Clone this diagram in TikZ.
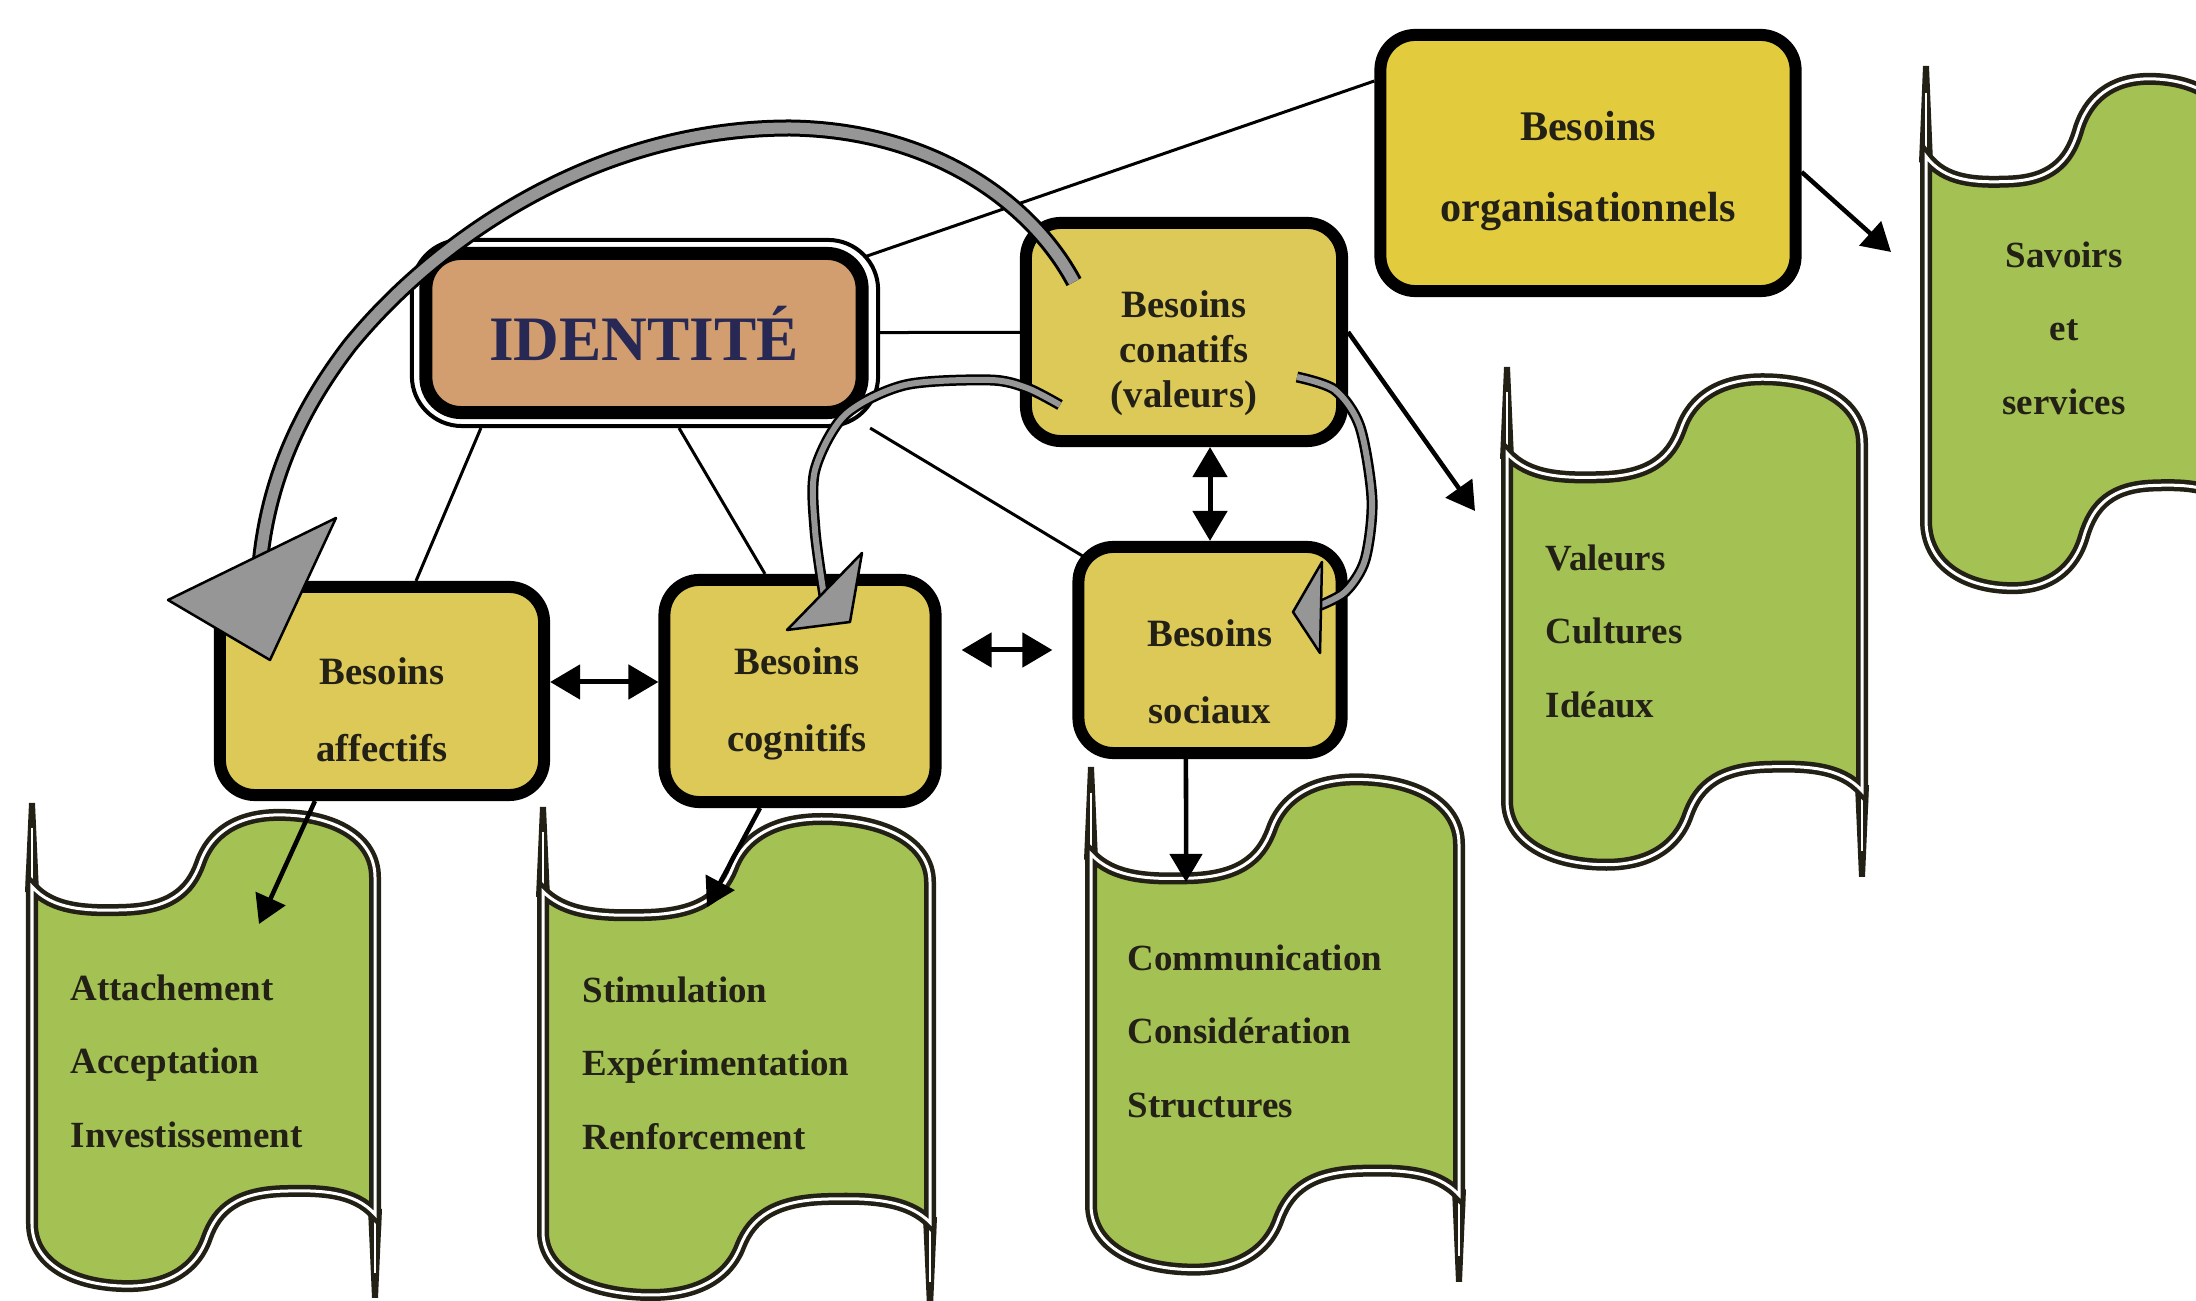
\documentclass[tikz,border=0pt]{standalone}
\usepackage{fontspec}
\setmainfont{Liberation Serif}
\usetikzlibrary{arrows.meta,backgrounds}
\definecolor{boxyellow}{RGB}{221,201,88}
\definecolor{orgyellow}{RGB}{226,204,62}
\definecolor{idtan}{RGB}{210,158,112}
\definecolor{idblue}{RGB}{40,40,85}
\definecolor{flaggreen}{RGB}{164,193,84}
\definecolor{bandgray}{RGB}{150,150,150}
\definecolor{inkdark}{RGB}{35,32,22}

% flag: x, y (top of the pole), width, height
\newcommand{\flag}[4]{%
\begin{scope}[shift={(#1,#2)}]
\fill[inkdark] (-7,{0.18*#4}) -- (-3,0) -- (3,0) -- (7,{0.18*#4}) -- cycle;
\fill[inkdark] ({#3-7},{0.82*#4}) -- ({#3-3},#4) -- ({#3+3},#4) -- ({#3+7},{0.82*#4}) -- cycle;
\draw[white,line width=0.012cm] (0,{0.05*#4}) -- (0,{0.18*#4});
\draw[white,line width=0.012cm] (#3,{0.82*#4}) -- (#3,{0.95*#4});
\filldraw[flagline,fill=flaggreen] (0,{0.169*#4}) .. controls ({0.06*#3},{0.216*#4}) and ({0.16*#3},{0.218*#4}) .. ({0.262*#3},{0.216*#4})
 .. controls ({0.40*#3},{0.214*#4}) and ({0.46*#3},{0.18*#4}) .. ({0.49*#3},{0.122*#4})
 .. controls ({0.52*#3},{0.06*#4}) and ({0.60*#3},{0.024*#4}) .. ({0.72*#3},{0.024*#4})
 .. controls ({0.88*#3},{0.024*#4}) and (#3,{0.07*#4}) .. (#3,{0.15*#4})
 -- (#3,{0.831*#4})
 .. controls ({0.94*#3},{0.784*#4}) and ({0.84*#3},{0.782*#4}) .. ({0.738*#3},{0.784*#4})
 .. controls ({0.60*#3},{0.786*#4}) and ({0.54*#3},{0.82*#4}) .. ({0.51*#3},{0.878*#4})
 .. controls ({0.48*#3},{0.94*#4}) and ({0.40*#3},{0.976*#4}) .. ({0.28*#3},{0.976*#4})
 .. controls ({0.12*#3},{0.976*#4}) and (0,{0.93*#4}) .. (0,{0.85*#4})
 -- cycle;
\end{scope}}

\begin{document}
\begin{tikzpicture}[x=0.01cm,y=-0.01cm,
  box/.style={draw=black,line width=0.12cm,rounded corners=0.35cm,fill=boxyellow},
  boxtext/.style={font=\bfseries\fontsize{11}{22}\selectfont,text=inkdark,align=center},
  listtext/.style={font=\bfseries\fontsize{10.5}{20.9}\selectfont,text=inkdark,align=left,anchor=west,inner sep=0pt},
  link/.style={line width=0.03cm,draw=black},
  arr/.style={line width=0.045cm,-{Triangle[length=0.28cm,width=0.32cm]}},
  dblarr/.style={line width=0.05cm,{Triangle[length=0.3cm,width=0.34cm]}-{Triangle[length=0.3cm,width=0.34cm]}},
  flagline/.style={draw=inkdark,line width=0.045cm,double=white,double distance=0.03cm},
  band/.style={draw=black,line width=0.025cm,double=bandgray,double distance=0.06cm},
  bandhead/.style={draw=black,line width=0.025cm,fill=bandgray,line join=round}]
\useasboundingbox (0,0) rectangle (2196,1301);
\clip (0,0) rectangle (2196,1301);

% Flags
\flag{32}{803}{343}{495}
\flag{543}{807}{387}{500}
\flag{1091}{767}{368}{515}
\flag{1507}{367}{355}{510}
\flag{1926}{66}{310}{535}

\node[listtext] (l1) at (70,1061) {Attachement\\Acceptation\\Investissement};
\node[listtext] (l2) at (582,1063) {Stimulation\\Expérimentation\\Renforcement};
\node[listtext] (l3) at (1127,1031) {Communication\\Considération\\Structures};
\node[listtext] (l4) at (1545,631) {Valeurs\\Cultures\\Idéaux};
\node[listtext,align=center,anchor=center] (l5) at (2064,328) {Savoirs\\et\\services};

\coordinate (t1) at (259,924);
\coordinate (t2) at (707,907);
\coordinate (t3) at (1186,882);
\coordinate (t4) at (1475,511);
\coordinate (t5) at (1891,252);

% Boxes
\node[draw=black,line width=0.04cm,rounded corners=0.5cm,fill=white,minimum width=4.66cm,minimum height=1.86cm] (idout) at (645,333) {};
\node[box,fill=idtan,line width=0.13cm,minimum width=4.36cm,minimum height=1.59cm,font=\bfseries\fontsize{18}{18}\selectfont,text=idblue] (id) at (644,333) {IDENTITÉ};
\node[box,minimum width=3.16cm,minimum height=2.18cm] (con) at (1184,332) {};
\node[box,fill=orgyellow,minimum width=4.15cm,minimum height=2.56cm] (org) at (1588,163) {};
\node[box,minimum width=3.24cm,minimum height=2.08cm] (aff) at (382,691) {};
\node[box,minimum width=2.71cm,minimum height=2.22cm] (cog) at (800,691) {};
\node[box,minimum width=2.63cm,minimum height=2.06cm] (soc) at (1210,650) {};

\node[boxtext,font=\bfseries\fontsize{11}{12.8}\selectfont] (conT) at ([yshift=-0.21cm]con.center) {Besoins\\conatifs\\(valeurs)};
\node[boxtext,font=\bfseries\fontsize{12}{23}\selectfont] (orgT) at ([yshift=-0.08cm]org.center) {Besoins\\organisationnels};
\node[boxtext] (affT) at ([yshift=-0.19cm]aff.center) {Besoins\\affectifs};
\node[boxtext] (cogT) at ([yshift=-0.13cm,xshift=-0.03cm]cog.center) {Besoins\\cognitifs};
\node[boxtext] (socT) at ([yshift=-0.22cm]soc.center) {Besoins\\sociaux};

%Lines
\begin{scope}[on background layer]
\fill[white] (0,0) rectangle (2196,1301);
\draw[link] (id.center) -- (org.159);
\draw[link] (id) -- (con);
\draw[link] ([xshift=0.71cm]idout.south west) -- ([xshift=0.34cm]aff.north);
\draw[link] ([xshift=0.34cm]idout.south) -- ([xshift=-0.35cm]cog.north);
\draw[link] ([xshift=-0.1cm]idout.south east) -- ([xshift=0.3cm,yshift=-0.27cm]soc.north west);
\end{scope}

%Arrows
\draw[dblarr] ([yshift=0.09cm]aff.east) -- ([yshift=0.09cm]cog.west);
\draw[dblarr,shorten <=0.2cm,shorten >=0.2cm] (soc.west) -- (soc.west -| cog.east);
\draw[dblarr] (con.south -| soc.north) -- (soc.north);
\draw[arr] ([xshift=-0.67cm]aff.south) -- (t1);
\draw[arr] ([xshift=-0.4cm]cog.south) -- (t2);
\draw[arr] ([xshift=-0.24cm]soc.south) -- (t3);
\draw[arr] (con.east) -- (t4);
\draw[arr] ([yshift=-0.09cm]org.east) -- (t5);

% Gray bands
\draw[band,line width=0.03cm,double distance=0.11cm] (1074,282) .. controls (1030,200) and (930,130) .. (790,128)
  .. controls (600,128) and (440,235) .. (350,345) .. controls (300,410) and (268,480) .. (260,565);
\filldraw[bandhead] (168,600) -- (336,518) -- (270,660) -- cycle;
\draw[band] plot[smooth] coordinates {(1060,405) (1027,388) (990,380) (905,385) (845,415) (815,470) (815,530) (824,596)};
\filldraw[bandhead] (787,630) -- (862,553) -- (850,622) -- cycle;
\draw[band] plot[smooth] coordinates {(1297,377) (1335,390) (1360,427) (1372,500) (1365,560) (1345,592) (1316,607)};
\filldraw[bandhead] (1293,612) -- (1322,562) -- (1320,653) -- cycle;
\end{tikzpicture}
\end{document}
